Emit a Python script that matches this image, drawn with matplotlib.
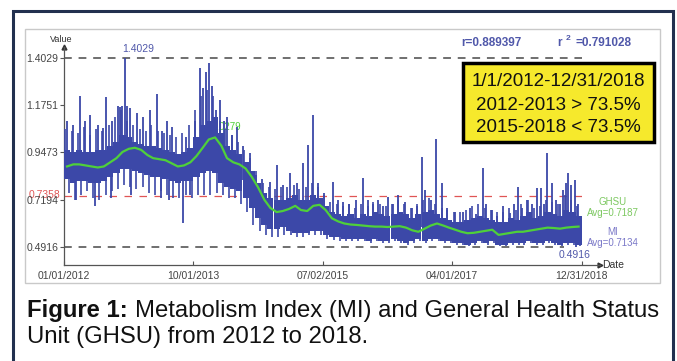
import numpy as np
import pandas as pd
import matplotlib
matplotlib.use('Agg')
from matplotlib import pyplot as plt
import matplotlib.dates as mdates
from matplotlib.patches import Rectangle
from matplotlib import transforms

plt.rcParams['font.family'] = ['Liberation Sans', 'DejaVu Sans']

# monthly data, 2012-01 .. 2018-12
months = pd.date_range('2012-01-01', periods=84, freq='MS')
# dense core of the MI band
mi_low = [0.82, 0.80, 0.81, 0.81, 0.80, 0.80, 0.81, 0.83, 0.85, 0.87, 0.87, 0.86,
          0.85, 0.84, 0.83, 0.83, 0.82, 0.81, 0.80, 0.81, 0.81, 0.83, 0.85, 0.86,
          0.85, 0.80, 0.78, 0.77, 0.76, 0.73, 0.68, 0.63, 0.60, 0.58, 0.58, 0.59,
          0.57, 0.56, 0.56, 0.56, 0.57, 0.57, 0.55, 0.54, 0.54, 0.53, 0.53, 0.53,
          0.53, 0.52, 0.53, 0.52, 0.52, 0.53, 0.52, 0.51, 0.52, 0.53, 0.52, 0.53,
          0.53, 0.52, 0.52, 0.51, 0.51, 0.50, 0.51, 0.52, 0.51, 0.52, 0.50, 0.50,
          0.51, 0.51, 0.51, 0.52, 0.51, 0.51, 0.52, 0.51, 0.50, 0.51, 0.51, 0.50]
mi_high = [0.96, 0.95, 0.96, 0.95, 0.95, 0.96, 0.96, 0.98, 1.00, 1.03, 1.02, 1.00,
           0.99, 0.98, 0.98, 0.97, 0.96, 0.95, 0.94, 0.95, 0.97, 1.02, 1.08, 1.10,
           1.12, 1.04, 0.98, 0.96, 0.94, 0.90, 0.86, 0.80, 0.75, 0.73, 0.72, 0.72,
           0.73, 0.74, 0.72, 0.72, 0.74, 0.73, 0.69, 0.66, 0.65, 0.64, 0.65, 0.63,
           0.65, 0.64, 0.66, 0.65, 0.64, 0.65, 0.66, 0.65, 0.63, 0.65, 0.66, 0.67,
           0.65, 0.63, 0.62, 0.61, 0.61, 0.62, 0.63, 0.64, 0.63, 0.62, 0.61, 0.61,
           0.63, 0.62, 0.64, 0.66, 0.63, 0.64, 0.66, 0.65, 0.64, 0.67, 0.66, 0.64]
# monthly upper / lower excursions of MI
mi_up = [1.06, 1.05, 1.04, 1.07, 1.03, 1.06, 1.05, 1.08, 1.12, 1.15, 1.10, 1.08,
         1.06, 1.05, 1.08, 1.05, 1.04, 1.03, 1.02, 1.04, 1.08, 1.15, 1.22, 1.25,
         1.22, 1.10, 1.06, 1.03, 1.00, 0.96, 0.92, 0.86, 0.80, 0.78, 0.77, 0.78,
         0.78, 0.79, 0.77, 0.78, 0.80, 0.78, 0.74, 0.71, 0.70, 0.69, 0.70, 0.68,
         0.70, 0.69, 0.71, 0.70, 0.69, 0.70, 0.72, 0.70, 0.68, 0.70, 0.72, 0.73,
         0.70, 0.68, 0.67, 0.66, 0.66, 0.67, 0.69, 0.70, 0.68, 0.67, 0.66, 0.66,
         0.68, 0.67, 0.70, 0.72, 0.68, 0.69, 0.72, 0.71, 0.70, 0.74, 0.72, 0.69]
mi_dn = [0.75, 0.72, 0.74, 0.76, 0.73, 0.72, 0.74, 0.76, 0.77, 0.79, 0.78, 0.77,
         0.78, 0.75, 0.74, 0.76, 0.74, 0.73, 0.73, 0.74, 0.73, 0.74, 0.74, 0.74,
         0.75, 0.74, 0.73, 0.73, 0.70, 0.66, 0.60, 0.57, 0.55, 0.54, 0.54, 0.55,
         0.55, 0.54, 0.54, 0.55, 0.55, 0.55, 0.53, 0.525, 0.52, 0.52, 0.52, 0.52,
         0.52, 0.51, 0.52, 0.51, 0.51, 0.52, 0.51, 0.50, 0.51, 0.52, 0.51, 0.52,
         0.52, 0.51, 0.51, 0.50, 0.50, 0.495, 0.50, 0.51, 0.50, 0.51, 0.495, 0.495,
         0.50, 0.50, 0.50, 0.51, 0.50, 0.50, 0.51, 0.50, 0.495, 0.50, 0.50, 0.495]
ghsu = [0.88, 0.89, 0.89, 0.885, 0.88, 0.875, 0.88, 0.90, 0.92, 0.95, 0.965, 0.97,
        0.96, 0.935, 0.92, 0.915, 0.91, 0.895, 0.88, 0.885, 0.90, 0.93, 0.97, 1.01,
        1.02, 0.98, 0.92, 0.90, 0.89, 0.87, 0.83, 0.78, 0.72, 0.68, 0.66, 0.665,
        0.675, 0.69, 0.67, 0.665, 0.69, 0.695, 0.67, 0.63, 0.615, 0.605, 0.60, 0.598,
        0.595, 0.592, 0.59, 0.59, 0.588, 0.59, 0.592, 0.585, 0.572, 0.565, 0.58, 0.595,
        0.605, 0.595, 0.585, 0.575, 0.565, 0.558, 0.56, 0.565, 0.57, 0.575, 0.55, 0.555,
        0.56, 0.565, 0.565, 0.57, 0.575, 0.58, 0.585, 0.583, 0.58, 0.585, 0.588, 0.59]

# single-day spikes (days after 2012-01-01)
spike_days = [15, 44, 60, 79, 104, 128, 153, 168, 193, 207, 230, 237, 267, 277, 286, 301, 311, 326,
              330, 360, 390, 425, 459, 480, 484, 509, 520, 533, 588, 602, 620, 647, 672, 686, 701,
              716, 731, 751, 770, 790, 805, 830, 854, 884, 918, 948, 978, 1017, 1052, 1081, 1116,
              1151, 1180, 1205, 1230, 1254, 1284, 1328, 1353, 1378, 1407, 1442, 1476, 1501, 1526,
              1551, 1575, 1600, 1625, 1649, 1684, 1719, 1743, 1768, 1783, 1812, 1837, 1867, 1891,
              1931, 1970, 2005, 2034, 2069, 2084, 2113, 2138, 2168, 2202, 2222, 2242, 2262, 2286,
              2311, 2336, 2355, 2370, 2385, 2410, 2429, 2449, 2464, 2479, 2489, 2504, 2523, 2530, 2538]
spike_vals = [1.10, 1.08, 0.72, 1.22, 1.10, 1.13, 0.69, 1.08, 1.065, 1.215, 0.73, 1.10, 1.17, 1.167,
              1.17, 1.4029, 1.17, 1.16, 0.74, 1.14, 1.12, 1.152, 1.23, 0.73, 1.05, 1.10, 0.72, 1.07,
              0.607, 1.02, 0.74, 1.10, 1.354, 1.26, 1.335, 1.379, 1.27, 1.15, 1.20, 1.10, 1.12, 1.03,
              1.07, 0.98, 0.945, 0.84, 0.82, 0.805, 0.887, 0.79, 0.848, 0.80, 0.896, 0.983, 1.128,
              0.80, 0.75, 0.805, 0.72, 0.709, 0.70, 0.72, 0.824, 0.72, 0.70, 0.718, 0.69, 0.733,
              0.70, 0.742, 0.709, 0.68, 0.69, 0.925, 0.766, 0.72, 1.012, 0.80, 0.68, 0.66, 0.66,
              0.68, 0.65, 0.872, 0.70, 0.67, 0.64, 0.69, 0.655, 0.70, 0.781, 0.68, 0.72, 0.70,
              0.776, 0.776, 0.70, 0.945, 0.80, 0.72, 0.70, 0.766, 0.80, 0.848, 0.79, 0.815, 0.4916, 0.70]

tick_dates = ['2012-01-01', '2013-10-01', '2015-07-02', '2017-04-01', '2018-12-31']
tick_labels = ['01/01/2012', '10/01/2013', '07/02/2015', '04/01/2017', '12/31/2018']
ytick_vals = [0.4916, 0.7194, 0.9473, 1.1751, 1.4029]
mi_max, mi_min, red_level = 1.4029, 0.4916, 0.7358
ghsu_peak_day, ghsu_peak = 733, 1.0279
ghsu_min_day, ghsu_min = 2050, 0.5478

W, H = 677, 361
mi_color = '#3c48a8'
gh_color = '#4fd03a'
lab_blue = '#5058aa'


def px(x, y):
    return x / W, 1 - y / H


fig = plt.figure(figsize=(W / 100, H / 100), dpi=100)
fig.patch.set_facecolor('white')

# frames
fig.patches.append(Rectangle(px(13, 372), 660 / W, 361 / H, transform=fig.transFigure,
                             fill=False, edgecolor='#22304f', linewidth=2.2))
fig.patches.append(Rectangle(px(25, 283), 635 / W, 254 / H, transform=fig.transFigure,
                             fill=False, edgecolor='#c9c9c9', linewidth=1.0))

ax = fig.add_axes([64 / W, 1 - 265 / H, 536 / W, 218 / H])
t0 = mdates.date2num(pd.Timestamp('2012-01-01'))
ax.set_xlim(t0, t0 + 2647)
ax.set_ylim(mi_min - 18 / 207.4, mi_max + 11 / 207.4)
ax.patch.set_alpha(0)

xm = mdates.date2num(months + pd.Timedelta(days=15))
low = np.array(mi_low)
high = np.array(mi_high)

# reference lines
x_end = t0 + 2560
ax.hlines([mi_max, mi_min], t0, [x_end, t0 + 2470], colors='#6f6f6f', linewidth=1.4,
          linestyles=(0, (4, 3.5)), zorder=1)
ax.hlines(red_level, t0, x_end, colors='#e05555', linewidth=0.9,
          linestyles=(0, (6, 6)), zorder=1)

# green labels under the MI band
ax.text(t0 + ghsu_peak_day - 5, ghsu_peak + 0.03, '%.4f' % ghsu_peak, color=gh_color,
        fontsize=7, zorder=2)
ax.plot(t0 + ghsu_peak_day - 15, ghsu_peak - 0.01, 'o', mfc='none', mec=gh_color, ms=5, zorder=2)
ax.text(t0 + ghsu_min_day, ghsu_min - 0.02, '%.4f' % ghsu_min, color=gh_color,
        fontsize=7, zorder=2)

# MI band + excursions + spikes
ax.bar(xm, high - low, bottom=low, width=30.5, color=mi_color, linewidth=0, zorder=3)
ax.vlines(xm - 8, low, mi_up, colors=mi_color, linewidth=1.2, zorder=3)
ax.vlines(xm + 8, mi_dn, high, colors=mi_color, linewidth=1.2, zorder=3)
sd = t0 + np.array(spike_days)
sv = np.array(spike_vals)
mi_idx = np.minimum((np.array(spike_days) / 30.44).astype(int), 83)
mid = (low[mi_idx] + high[mi_idx]) / 2
ax.vlines(sd, np.minimum(sv, mid), np.maximum(sv, mid), colors=mi_color, linewidth=1.3, zorder=3)

# GHSU
ax.plot(xm, ghsu, color=gh_color, linewidth=1.6, zorder=4)

# axes styling
for s in ['top', 'right']:
    ax.spines[s].set_visible(False)
for s in ['left', 'bottom']:
    ax.spines[s].set_color('#555555')
    ax.spines[s].set_linewidth(0.9)
ax.set_xticks(mdates.date2num(pd.to_datetime(tick_dates)))
ax.set_xticklabels(tick_labels, fontsize=7.5, color='#444444')
ax.tick_params(axis='x', direction='in', length=3, color='#555555', pad=4)
ax.set_yticks(ytick_vals)
ax.set_yticklabels(['%.4f' % v for v in ytick_vals], fontsize=7.5, color='#444444')
ax.tick_params(axis='y', direction='out', length=3, color='#555555', pad=1)
trans = transforms.blended_transform_factory(ax.transAxes, ax.transData)
ax.text(-0.0075, red_level + 0.006, '%.4f' % red_level, transform=trans, ha='right', va='center',
        fontsize=7.5, color='#e05555', zorder=1)
ax.plot(0, 1, '^', color='#333333', ms=3.5, transform=ax.transAxes, clip_on=False)
ax.plot(1, 0, '>', color='#333333', ms=3.5, transform=ax.transAxes, clip_on=False)

ax.text(t0 + 301 - 12, mi_max + 0.02, '%.4f' % mi_max, color=lab_blue, fontsize=7.5, ha='left', va='bottom')
ax.text(t0 + 2520, mi_min - 0.015, '%.4f' % mi_min, color=lab_blue, fontsize=7.5, ha='center', va='top')

# figure texts
fig.text(*px(50, 40), 'Value', fontsize=6.5, color='#333333', va='center')
fig.text(*px(602, 265), 'Date', fontsize=7.5, color='#333333', va='center')
fig.text(*px(461, 43), 'r=0.889397', fontsize=8.5, color=lab_blue, fontweight='bold', va='center')
fig.text(*px(557, 43), 'r', fontsize=8.5, color=lab_blue, fontweight='bold', va='center')
fig.text(*px(566, 38), '2', fontsize=6, color=lab_blue, fontweight='bold', va='center')
fig.text(*px(576, 43), '=0.791028', fontsize=8.5, color=lab_blue, fontweight='bold', va='center')

fig.text(*px(613, 202), 'GHSU', fontsize=7, color='#7cc860', ha='center', va='center')
fig.text(*px(613, 213), 'Avg=0.7187', fontsize=7, color='#7cc860', ha='center', va='center')
fig.text(*px(613, 232), 'MI', fontsize=7, color='#7a78c8', ha='center', va='center')
fig.text(*px(613, 243), 'Avg=0.7134', fontsize=7, color='#7a78c8', ha='center', va='center')

fig.patches.append(Rectangle(px(463, 142), 191 / W, 79 / H, transform=fig.transFigure,
                             facecolor='#f6e92c', edgecolor='black', linewidth=2.5))
for yy, line in zip([82, 105, 128], ['1/1/2012-12/31/2018', '2012-2013 > 73.5%', '2015-2018 < 73.5%']):
    fig.text(*px(558, yy), line, fontsize=13.5, color='#111111', ha='center', va='center')

fig.text(*px(27, 311), 'Figure 1:', fontsize=17.2, fontweight='bold', color='#111111', va='center')
fig.text(*px(135, 311), 'Metabolism Index (MI) and General Health Status', fontsize=17.2,
         color='#111111', va='center')
fig.text(*px(27, 337), 'Unit (GHSU) from 2012 to 2018.', fontsize=17.2, color='#111111', va='center')

plt.savefig('out.png', dpi=100)
